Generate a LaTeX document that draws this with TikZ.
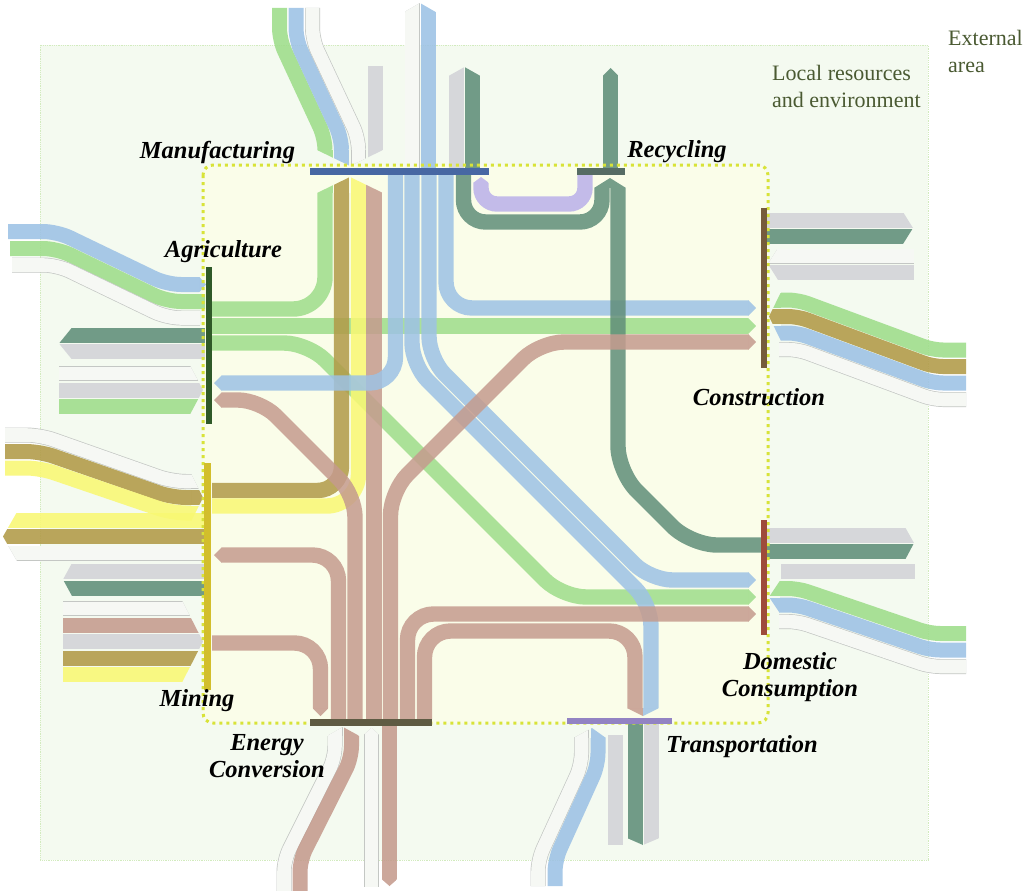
\documentclass[tikz,border=0pt]{standalone}
\usepackage{fontspec}
\setmainfont{Liberation Serif}
\definecolor{fgreen}{HTML}{9EDD8A}
\definecolor{fblue}{HTML}{9DC2E5}
\definecolor{fbrown}{HTML}{C59B8E}
\definecolor{folive}{HTML}{B19A47}
\definecolor{fyellow}{HTML}{F9F873}
\definecolor{fdkgreen}{HTML}{608E79}
\definecolor{fgray}{HTML}{D2D3D8}
\definecolor{fwhite}{HTML}{F6F8F4}
\definecolor{fedge}{HTML}{C4C7C4}
\definecolor{fpurple}{HTML}{BAB0EA}
\definecolor{outerbg}{HTML}{F4FAF0}
\definecolor{outeredge}{HTML}{D2EBBE}
\definecolor{innerbg}{HTML}{FAFDE9}
\definecolor{inneredge}{HTML}{D8E338}
\definecolor{areatext}{HTML}{4A5A32}
\definecolor{cmanu}{HTML}{4767A3}
\definecolor{crecy}{HTML}{566C64}
\definecolor{cagri}{HTML}{2F5928}
\definecolor{cmining}{HTML}{D2BE2C}
\definecolor{cconstr}{HTML}{765C3C}
\definecolor{cdom}{HTML}{9E4B3B}
\definecolor{cenergy}{HTML}{5F5B43}
\definecolor{ctrans}{HTML}{9283C3}
% a clipped chevron end for one or more bands
\newcommand\tipclip[2]{\begin{scope}\clip #1 -- cycle; #2\end{scope}}
\begin{document}
\begin{tikzpicture}[x=1pt,y=-1pt,
  flow/.style={line width=15.4pt, opacity=.85},
  xflow/.style={line width=15pt, opacity=.88},
  wflow/.style={line width=.7pt, draw=fedge, double=fwhite, double distance=13.6pt},
  bar/.style={rectangle, inner sep=0pt, outer sep=0pt, draw=none},
  sector/.style={font=\fontsize{24.5}{27}\selectfont\bfseries\itshape, text=black, align=center, inner sep=0pt},
  area/.style={font=\fontsize{22}{27}\selectfont, text=areatext, align=left, inner sep=0pt, anchor=north west},
]
\useasboundingbox (0,0) rectangle (1025,891);
\fill[white] (0,0) rectangle (1025,891);
% local area and the city system
\draw[fill=outerbg, draw=outeredge, densely dotted, line width=.8pt] (40,45) rectangle (928,860);
\fill[innerbg, rounded corners=10pt] (203,165) rectangle (768,723);

% ---------- exchanges with the outside: Manufacturing and Recycling ----------
\draw[xflow,fgreen,rounded corners=12pt] (279.5,8) -- (279.5,40) -- (325,138) -- (325,150);
\draw[xflow,fblue,rounded corners=12pt] (296,8) -- (296,40) -- (341.5,138) -- (341.5,150);
\draw[wflow,rounded corners=12pt] (312.5,8) -- (312.5,40) -- (358.5,138) -- (358.5,150);
\draw[xflow,fgray] (375,66) -- (375,150);
\tipclip{(317,150) -- (350,166) -- (383,150)}{
  \draw[xflow,fgreen] (325,150) -- (325,167);
  \draw[xflow,fblue] (341.5,150) -- (341.5,167);
  \draw[wflow] (358.5,150) -- (358.5,167);
  \draw[xflow,fgray] (375,150) -- (375,167);}
\draw[wflow] (412,168) -- (412,12.5);
\draw[xflow,fblue] (428.5,168) -- (428.5,12.5);
\tipclip{(403.5,12.5) -- (420,3) -- (436.5,12.5)}{
  \draw[wflow] (412,12.5) -- (412,2);
  \draw[xflow,fblue] (428.5,12.5) -- (428.5,2);}
\draw[xflow,fgray] (456.5,168) -- (456.5,76);
\draw[xflow,fdkgreen] (472.5,168) -- (472.5,76);
\tipclip{(448.5,76) -- (464.5,67) -- (480.5,76)}{
  \draw[xflow,fgray] (456.5,76) -- (456.5,66);
  \draw[xflow,fdkgreen] (472.5,76) -- (472.5,66);}
\draw[xflow,fdkgreen] (610.5,168) -- (610.5,76);
\tipclip{(602.5,76) -- (610.5,68) -- (618.5,76)}{\draw[xflow,fdkgreen] (610.5,76) -- (610.5,67);}

% ---------- Agriculture, outside ----------
\draw[xflow,fblue,rounded corners=14pt] (8,231.5) -- (57,231.5) -- (167,284.5) -- (199,284.5);
\tipclip{(199,276.5) -- (206,284.5) -- (199,292.5)}{\draw[xflow,fblue] (199,284.5) -- (207,284.5);}
\draw[xflow,fgreen,rounded corners=14pt] (10,248.5) -- (57,248.5) -- (167,301.5) -- (205,301.5);
\draw[wflow,rounded corners=14pt] (12,265) -- (57,265) -- (167,318) -- (200,318);
\draw[xflow,fdkgreen] (205,335.5) -- (72,335.5);
\draw[xflow,fgray] (205,351.5) -- (72,351.5);
\tipclip{(72,327.5) -- (59,343.5) -- (72,359.5)}{
  \draw[xflow,fdkgreen] (72,335.5) -- (58,335.5);
  \draw[xflow,fgray] (72,351.5) -- (58,351.5);}
\draw[wflow] (59,373.5) -- (190,373.5);
\draw[xflow,fgray] (59,390) -- (190,390);
\draw[xflow,fgreen] (59,406.5) -- (190,406.5);
\tipclip{(190,365.5) -- (203,390) -- (190,414.5)}{
  \draw[wflow] (190,373.5) -- (204,373.5);
  \draw[xflow,fgray] (190,390) -- (204,390);
  \draw[xflow,fgreen] (190,406.5) -- (204,406.5);}

% ---------- Mining, outside ----------
\draw[wflow,rounded corners=14pt] (5,435) -- (40,435) -- (172,481.5) -- (191,481.5);
\draw[xflow,folive,rounded corners=14pt] (5,451.5) -- (40,451.5) -- (172,497.5) -- (191,497.5);
\draw[xflow,fyellow,rounded corners=14pt] (5,468) -- (40,468) -- (172,513) -- (191,513);
\tipclip{(191,473.5) -- (203,497.5) -- (191,521.5)}{
  \draw[wflow] (191,481.5) -- (204,481.5);
  \draw[xflow,folive] (191,497.5) -- (204,497.5);
  \draw[xflow,fyellow] (191,513) -- (204,513);}
\draw[xflow,fyellow] (204,520) -- (17,520);
\draw[xflow,folive] (204,536.5) -- (17,536.5);
\draw[wflow] (204,553) -- (17,553);
\tipclip{(17,512) -- (3,536.5) -- (17,561)}{
  \draw[xflow,fyellow] (17,520) -- (2,520);
  \draw[xflow,folive] (17,536.5) -- (2,536.5);
  \draw[wflow] (17,553) -- (2,553);}
\draw[xflow,fgray] (204,571) -- (72,571);
\draw[xflow,fdkgreen] (204,588) -- (72,588);
\tipclip{(72,563) -- (63,579.5) -- (72,596)}{
  \draw[xflow,fgray] (72,571) -- (62,571);
  \draw[xflow,fdkgreen] (72,588) -- (62,588);}
\draw[wflow] (63,608.5) -- (182,608.5);
\draw[xflow,fbrown] (63,625) -- (182,625);
\draw[xflow,fgray] (63,641.5) -- (182,641.5);
\draw[xflow,folive] (63,658) -- (182,658);
\draw[xflow,fyellow] (63,674.5) -- (182,674.5);
\tipclip{(182,600.5) -- (203,641.5) -- (182,682.5)}{
  \draw[wflow] (182,608.5) -- (204,608.5);
  \draw[xflow,fbrown] (182,625) -- (204,625);
  \draw[xflow,fgray] (182,641.5) -- (204,641.5);
  \draw[xflow,folive] (182,658) -- (204,658);
  \draw[xflow,fyellow] (182,674.5) -- (204,674.5);}

% ---------- Construction, outside ----------
\draw[xflow,fgray] (767,220) -- (903,220);
\draw[xflow,fdkgreen] (767,236) -- (903,236);
\tipclip{(903,212) -- (913,228) -- (903,244)}{
  \draw[xflow,fgray] (903,220) -- (914,220);
  \draw[xflow,fdkgreen] (903,236) -- (914,236);}
\draw[wflow] (778,256) -- (914,256);
\draw[xflow,fgray] (778,272) -- (914,272);
\tipclip{(778,248) -- (768,264) -- (778,280)}{
  \draw[wflow] (778,256) -- (767,256);
  \draw[xflow,fgray] (778,272) -- (767,272);}
\draw[xflow,fgreen,rounded corners=10pt] (781,300) -- (798,300) -- (933,350) -- (966,350);
\draw[xflow,folive,rounded corners=10pt] (781,316.5) -- (798,316.5) -- (933,366.5) -- (966,366.5);
\draw[xflow,fblue,rounded corners=10pt] (781,333) -- (798,333) -- (933,383) -- (966,383);
\draw[wflow,rounded corners=10pt] (779,349.5) -- (798,349.5) -- (933,399.5) -- (966,399.5);
\tipclip{(781,292) -- (769,316.5) -- (781,341)}{
  \draw[xflow,fgreen] (781,300) -- (768,300);
  \draw[xflow,folive] (781,316.5) -- (768,316.5);
  \draw[xflow,fblue] (781,333) -- (768,333);}

% ---------- Domestic consumption, outside ----------
\draw[xflow,fgray] (767,535) -- (905,535);
\draw[xflow,fdkgreen] (767,551.5) -- (905,551.5);
\tipclip{(905,527) -- (914,543) -- (905,560)}{
  \draw[xflow,fgray] (905,535) -- (915,535);
  \draw[xflow,fdkgreen] (905,551.5) -- (915,551.5);}
\draw[xflow,fgray] (781,571) -- (915,571);
\draw[xflow,fgreen,rounded corners=10pt] (780,588.5) -- (798,588.5) -- (930,633.5) -- (966,633.5);
\draw[xflow,fblue,rounded corners=10pt] (780,605) -- (798,605) -- (930,650) -- (966,650);
\draw[wflow,rounded corners=10pt] (779,621.5) -- (798,621.5) -- (930,666.5) -- (966,666.5);
\tipclip{(780,580.5) -- (769,597) -- (780,613.5)}{
  \draw[xflow,fgreen] (780,588.5) -- (768,588.5);
  \draw[xflow,fblue] (780,605) -- (768,605);}

% ---------- Energy conversion and Transportation, outside ----------
\draw[wflow,rounded corners=12pt] (335,736) -- (335,758) -- (284,860) -- (284,891);
\draw[xflow,fbrown,rounded corners=12pt] (351.5,736) -- (351.5,758) -- (300,860) -- (300,891);
\tipclip{(327,736) -- (343,727) -- (359.5,736)}{
  \draw[wflow] (335,736) -- (335,726);
  \draw[xflow,fbrown] (351.5,736) -- (351.5,726);}
\draw[wflow] (371.5,735) -- (371.5,887);
\tipclip{(363.5,735) -- (371.5,728) -- (379.5,735)}{\draw[wflow] (371.5,735) -- (371.5,727);}
\draw[xflow,fbrown] (389.5,726) -- (389.5,879);
\tipclip{(381.5,879) -- (389.5,886) -- (397.5,879)}{\draw[xflow,fbrown] (389.5,879) -- (389.5,887);}
\draw[wflow,rounded corners=12pt] (581.5,738) -- (581.5,765) -- (538,860) -- (538,886);
\draw[xflow,fblue,rounded corners=12pt] (598,738) -- (598,765) -- (555,860) -- (555,886);
\tipclip{(573.5,738) -- (592,728) -- (606,738)}{
  \draw[wflow] (581.5,738) -- (581.5,727);
  \draw[xflow,fblue] (598,738) -- (598,727);}
\draw[xflow,fgray] (615,735) -- (615,845);
\draw[xflow,fdkgreen] (635,724) -- (635,838);
\draw[xflow,fgray] (651.5,724) -- (651.5,838);
\tipclip{(627,838) -- (643,845) -- (659.5,838)}{
  \draw[xflow,fdkgreen] (635,838) -- (635,846);
  \draw[xflow,fgray] (651.5,838) -- (651.5,846);}

% ---------- flows inside the city ----------
% Agriculture -> Manufacturing, Construction, Domestic consumption
\draw[flow,fgreen,rounded corners=32pt] (212,309) -- (325,309) -- (325,193);
\draw[flow,fgreen] (212,326) -- (748,326);
\draw[flow,fgreen,rounded corners=24pt] (212,343) -- (308,343) -- (562,597) -- (748,597);
% Mining -> Manufacturing
\draw[flow,folive,rounded corners=24pt] (212,490.5) -- (341.5,490.5) -- (341.5,193);
\draw[flow,fyellow,rounded corners=32pt] (212,506) -- (358.5,506) -- (358.5,193);
% Energy conversion -> Manufacturing
\draw[flow,fbrown] (374,719) -- (374,193);
\tipclip{(317,193) -- (350,177) -- (383,193)}{
  \draw[flow,fgreen] (325,193) -- (325,176);
  \draw[flow,folive] (341.5,193) -- (341.5,176);
  \draw[flow,fyellow] (358.5,193) -- (358.5,176);
  \draw[flow,fbrown] (374,193) -- (374,176);}
% Manufacturing -> Agriculture, Transportation, Domestic consumption, Construction
\draw[flow,fblue,rounded corners=26pt] (395.5,175) -- (395.5,383) -- (222,383);
\tipclip{(222,375) -- (214,383) -- (222,391)}{\draw[flow,fblue] (222,383) -- (213,383);}
\draw[flow,fblue,rounded corners=22pt] (412,175) -- (412,365) -- (651,604) -- (651,708);
\draw[flow,fblue,rounded corners=22pt] (429,175) -- (429,358.5) -- (650.5,580) -- (748,580);
\draw[flow,fblue,rounded corners=26pt] (446,175) -- (446,308) -- (748,308);
% Manufacturing <-> Recycling
\draw[flow,fdkgreen,rounded corners=22pt] (463.5,175) -- (463.5,222) -- (602,222) -- (602,188);
\draw[flow,fpurple,rounded corners=16pt] (585,175) -- (585,204) -- (481,204) -- (481,183);
\tipclip{(473,183) -- (481,177) -- (489,183)}{\draw[flow,fpurple] (481,183) -- (481,176);}
% Domestic consumption -> Recycling
\draw[flow,fdkgreen,rounded corners=26pt] (761,545) -- (691,545) -- (618,472) -- (618,188);
\tipclip{(594,188) -- (610,178) -- (626,188)}{
  \draw[flow,fdkgreen] (602,188) -- (602,177);
  \draw[flow,fdkgreen] (618,188) -- (618,177);}
% Energy conversion -> Agriculture, Mining
\draw[flow,fbrown,rounded corners=22pt] (355,719) -- (355,495) -- (260,400) -- (222,400);
\tipclip{(222,392) -- (214,400) -- (222,408)}{\draw[flow,fbrown] (222,400) -- (213,400);}
\draw[flow,fbrown,rounded corners=26pt] (338.5,719) -- (338.5,555) -- (222,555);
\tipclip{(222,547) -- (214,555) -- (222,563)}{\draw[flow,fbrown] (222,555) -- (213,555);}
% Mining -> Energy conversion
\draw[flow,fbrown,rounded corners=26pt] (212,643) -- (320.5,643) -- (320.5,708);
\tipclip{(312.5,708) -- (320.5,716) -- (328.5,708)}{\draw[flow,fbrown] (320.5,708) -- (320.5,717);}
% Energy conversion -> Construction, Domestic consumption, Transportation
\draw[flow,fbrown,rounded corners=24pt] (390.5,719) -- (390.5,491.5) -- (540,342) -- (748,342);
\draw[flow,fbrown,rounded corners=26pt] (407.5,719) -- (407.5,614) -- (748,614);
\draw[flow,fbrown,rounded corners=26pt] (424.5,719) -- (424.5,631) -- (635,631) -- (635,708);
\tipclip{(627,708) -- (643,716) -- (659,708)}{
  \draw[flow,fbrown] (635,708) -- (635,717);
  \draw[flow,fblue] (651,708) -- (651,717);}
% arrow ends at Construction and Domestic consumption
\foreach \yy/\cc in {308/fblue,326/fgreen,342/fbrown,580/fblue,597/fgreen,614/fbrown}{
  \tipclip{(748,\yy-8) -- (756,\yy) -- (748,\yy+8)}{\draw[flow,\cc] (748,\yy) -- (757,\yy);}
}

% city boundary
\draw[draw=inneredge, line width=3pt, dash pattern=on 3pt off 4pt, rounded corners=10pt] (203,165) rectangle (768,723);

% ---------- sectors ----------
\node[bar, fill=cmanu, minimum width=179pt, minimum height=7pt] (manu) at (399.5,171.5) {};
\node[bar, fill=crecy, minimum width=48pt, minimum height=7pt] (recy) at (601,171.5) {};
\node[bar, fill=cagri, minimum width=6.5pt, minimum height=157pt] (agri) at (209,345.5) {};
\node[bar, fill=cmining, minimum width=7pt, minimum height=227pt] (mining) at (207.5,576.5) {};
\node[bar, fill=cconstr, minimum width=6.5pt, minimum height=160pt] (constr) at (764,288) {};
\node[bar, fill=cdom, minimum width=6.5pt, minimum height=115pt] (dom) at (764,577.5) {};
\node[bar, fill=cenergy, minimum width=122pt, minimum height=7pt] (energy) at (371,722.5) {};
\node[bar, fill=ctrans, minimum width=105pt, minimum height=6.5pt] (trans) at (619.5,721) {};

\node[sector] (lmanu) at (217.5,152) {Manufacturing};
\node[sector] (lrecy) at (677,152) {Recycling};
\node[sector] (lagri) at (223.5,252) {Agriculture};
\node[sector] (lconstr) at (759,397) {Construction};
\node[sector] (lmining) at (197,701) {Mining};
\node[sector] (ldom) at (790,677) {Domestic\\Consumption};
\node[sector] (lenergy) at (267,756) {Energy\\Conversion};
\node[sector] (ltrans) at (742,747) {Transportation};
\node[area] (llocal) at (772,65) {Local resources\\and environment};
\node[area] (lext) at (948,30) {External\\area};
\end{tikzpicture}
\end{document}
